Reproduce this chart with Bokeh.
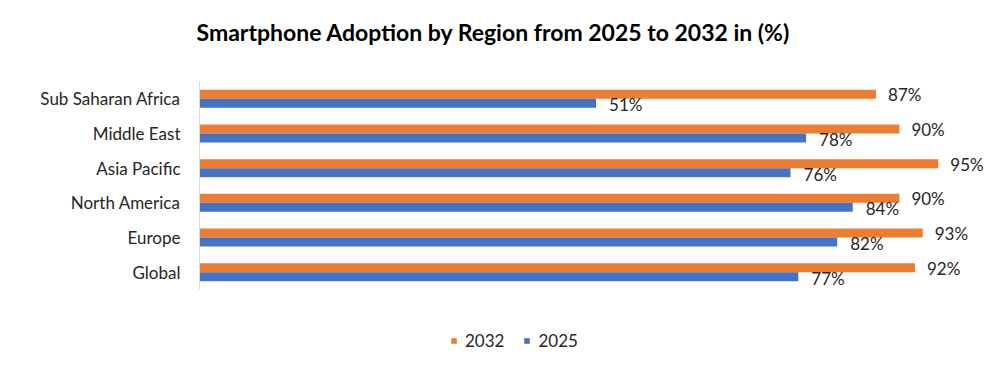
from bokeh.plotting import figure
from bokeh.models import ColumnDataSource, FactorRange, Legend, LegendItem, Range1d, Title
from bokeh.layouts import column
from bokeh.transform import dodge
from bokeh.core.properties import value
from bokeh.embed import file_html
from bokeh.resources import INLINE

regions = ["Global", "Europe", "North America", "Asia Pacific", "Middle East", "Sub Saharan Africa"]
v2032 = [92, 93, 90, 95, 90, 87]
v2025 = [77, 82, 84, 76, 78, 51]
series = ["2032", "2025"]
title_text = "Smartphone Adoption by Region from 2025 to 2032 in (%)"

src = ColumnDataSource(dict(
    region=regions,
    v2032=v2032,
    v2025=v2025,
    l2032=[f"{v}%" for v in v2032],
    l2025=[f"{v}%" for v in v2025],
))

ORANGE = "#ED7D31"
BLUE = "#4472C4"
FONT = "Lato"

p = figure(width=1000, height=305, output_backend="svg", toolbar_location=None,
           title=None,
           y_range=FactorRange(*regions), x_range=Range1d(0, 103),
           x_axis_location=None, min_border_left=199, min_border_right=0,
           min_border_top=81, min_border_bottom=16, outline_line_color=None)

# spacer panel nearest the frame, then the real title above it
p.add_layout(Title(text=" ", text_font_size="1px", standoff=33), "above")
p.add_layout(Title(text=title_text, align="left", offset=-3, text_font=FONT,
                   text_font_size="23px", text_font_style="bold",
                   text_color="#000000", standoff=0), "above")

p.xgrid.visible = False
p.ygrid.visible = False

p.hbar(y=dodge("region", 0.13, range=p.y_range), right="v2032", height=0.26,
       source=src, color=ORANGE, line_color=None)
p.hbar(y=dodge("region", -0.13, range=p.y_range), right="v2025", height=0.26,
       source=src, color=BLUE, line_color=None)

p.text(x="v2032", y=dodge("region", 0.12, range=p.y_range), text="l2032", source=src,
       x_offset=12, text_baseline="middle", text_align="left",
       text_font=value(FONT), text_font_size="17px", text_color="#262626")
p.text(x="v2025", y=dodge("region", -0.17, range=p.y_range), text="l2025", source=src,
       x_offset=13, text_baseline="middle", text_align="left",
       text_font=value(FONT), text_font_size="17px", text_color="#262626")

ax = p.yaxis[0]
ax.axis_line_color = "#D9D9D9"
ax.major_tick_line_color = None
ax.minor_tick_line_color = None
ax.major_tick_out = 0
ax.major_tick_in = 0
ax.major_label_text_font = FONT
ax.major_label_text_font_size = "17px"
ax.major_label_text_color = "#262626"
ax.major_label_standoff = 19

# legend strip
lg = figure(width=1000, height=49, output_backend="svg", toolbar_location=None,
            x_range=Range1d(0, 1), y_range=Range1d(0, 1),
            x_axis_location=None, y_axis_location=None,
            min_border=0, outline_line_color=None)
lg.xgrid.visible = False
lg.ygrid.visible = False
nan = float("nan")
dummy = ColumnDataSource(dict(y=[nan], right=[nan]))
la = lg.hbar(y="y", right="right", height=1, source=dummy, color=ORANGE, line_color=None)
lb = lg.hbar(y="y", right="right", height=1, source=dummy, color=BLUE, line_color=None)

legend = Legend(items=[LegendItem(label=series[0], renderers=[la]),
                       LegendItem(label=series[1], renderers=[lb])],
                orientation="horizontal", location=(251, 3),
                glyph_width=7, glyph_height=7, label_standoff=8, spacing=19,
                label_text_font=FONT, label_text_font_size="17px",
                label_text_color="#262626", border_line_color=None,
                background_fill_alpha=0, margin=0, padding=0)
lg.add_layout(legend, "center")

open("out.html", "w").write(file_html(column(p, lg, spacing=0), INLINE))
